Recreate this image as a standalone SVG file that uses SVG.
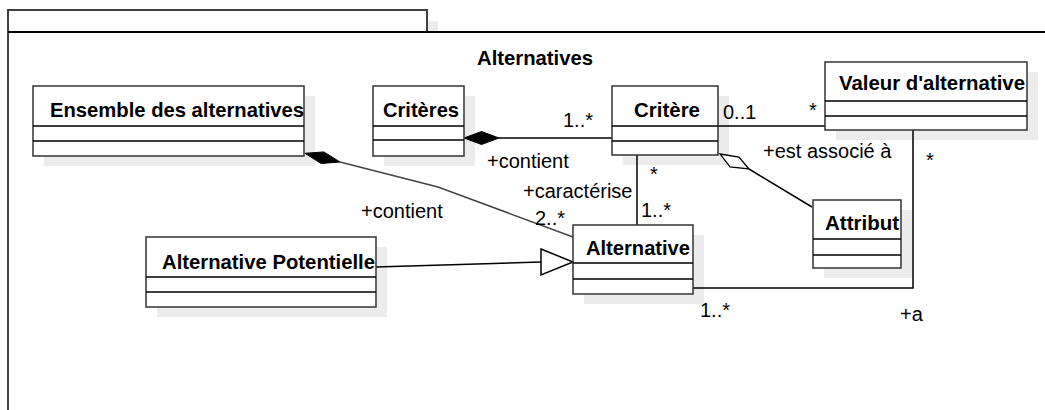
<svg xmlns="http://www.w3.org/2000/svg" width="1045" height="410" viewBox="0 0 1045 410">
<style>
.pk{fill:none;stroke:#404040;stroke-width:2}
.sh{fill:#ececec;stroke:none}
.bx{fill:#ffffff;stroke:#333333;stroke-width:1.5}
.cl{stroke:#000000;stroke-width:1.5}
.nm{font-family:"Liberation Sans",Arial,sans-serif;font-size:20.2px;font-weight:bold;fill:#000}
.lb{font-family:"Liberation Sans",Arial,sans-serif;font-size:20px;fill:#000}
.ln{fill:none;stroke:#000;stroke-width:1.5}
.lg{fill:none;stroke:#444;stroke-width:1.5}
</style>
<rect width="1045" height="410" fill="#ffffff"/>
<g id="package">
<rect class="sh" x="427" y="21" width="11" height="11"/>
<rect x="8" y="10" width="419" height="22" fill="#fff" stroke="#404040" stroke-width="2"/>
<path class="pk" d="M8,410 V32"/>
<path d="M8,32 H1045" stroke="#000" stroke-width="2"/>
<text class="nm" x="477" y="65" textLength="116" lengthAdjust="spacingAndGlyphs">Alternatives</text>
</g>
<g id="shadows">
<rect class="sh" x="44" y="96" width="271" height="70"/>
<rect class="sh" x="384" y="96" width="91" height="70"/>
<rect class="sh" x="623" y="96" width="106" height="69"/>
<rect class="sh" x="836" y="72" width="202" height="68"/>
<rect class="sh" x="824" y="210" width="88" height="68"/>
<rect class="sh" x="584" y="235" width="120" height="69"/>
<rect class="sh" x="157" y="247" width="230" height="70"/>
</g>
<g id="connectors">
<path class="ln" d="M499,138 H612"/>
<path d="M464,138 L481.5,131.5 L499,138 L481.5,144.5 Z" fill="#000" stroke="#000" stroke-width="1"/>
<path class="lg" d="M340,162 L438,187 L573,237"/>
<path d="M305,153.3 L323.9,151.9 L340,162 L321.1,163.5 Z" fill="#000" stroke="#000" stroke-width="1"/>
<path class="ln" d="M718,126 H825"/>
<path class="ln" d="M637,155 V225"/>
<path class="ln" d="M749,169 L812,207"/>
<path d="M720,154 L739,157 L749,169 L730,167 Z" fill="#fff" stroke="#000" stroke-width="1.3"/>
<path class="ln" d="M376,267 L541,262"/>
<path d="M541,249 L573,262 L541,275 Z" fill="#fff" stroke="#000" stroke-width="1.5"/>
<path class="ln" d="M693,288 H913 V130"/>
<text class="lb" x="563" y="127">1..*</text>
<text class="lb" x="487" y="168">+contient</text>
<text class="lb" x="650" y="181">*</text>
<text class="lb" x="523" y="198">+caractérise</text>
<text class="lb" x="641" y="217">1..*</text>
<text class="lb" x="535" y="225">2..*</text>
<text class="lb" x="361" y="218">+contient</text>
<text class="lb" x="723" y="119">0..1</text>
<text class="lb" x="809" y="117">*</text>
<text class="lb" x="763" y="158">+est associé à</text>
<text class="lb" x="926" y="167">*</text>
<text class="lb" x="700" y="317">1..*</text>
<text class="lb" x="900" y="321">+a</text>
</g>
<g id="ensemble">
<rect class="bx" x="33" y="86" width="271" height="70"/>
<path class="cl" d="M33,126 H304 M33,141 H304"/>
<text class="nm" x="50" y="117" textLength="254" lengthAdjust="spacingAndGlyphs">Ensemble des alternatives</text>
</g>
<g id="criteres">
<rect class="bx" x="373" y="86" width="91" height="70"/>
<path class="cl" d="M373,126 H464 M373,140 H464"/>
<text class="nm" x="383" y="117" textLength="76" lengthAdjust="spacingAndGlyphs">Critères</text>
</g>
<g id="critere">
<rect class="bx" x="612" y="86" width="106" height="69"/>
<path class="cl" d="M612,126 H718 M612,141 H718"/>
<text class="nm" x="634" y="117" textLength="66" lengthAdjust="spacingAndGlyphs">Critère</text>
</g>
<g id="valeur">
<rect class="bx" x="825" y="62" width="202" height="68"/>
<path class="cl" d="M825,101 H1027 M825,116 H1027"/>
<text class="nm" x="839" y="90" textLength="186" lengthAdjust="spacingAndGlyphs">Valeur d'alternative</text>
</g>
<g id="attribut">
<rect class="bx" x="813" y="200" width="88" height="68"/>
<path class="cl" d="M813,239 H901 M813,255 H901"/>
<text class="nm" x="825" y="230" textLength="74" lengthAdjust="spacingAndGlyphs">Attribut</text>
</g>
<g id="alternative">
<rect class="bx" x="573" y="225" width="120" height="69"/>
<path class="cl" d="M573,263 H693 M573,279 H693"/>
<text class="nm" x="586" y="255" textLength="104" lengthAdjust="spacingAndGlyphs">Alternative</text>
</g>
<g id="alternative-potentielle">
<rect class="bx" x="146" y="237" width="230" height="70"/>
<path class="cl" d="M146,277 H376 M146,292 H376"/>
<text class="nm" x="162" y="269" textLength="213" lengthAdjust="spacingAndGlyphs">Alternative Potentielle</text>
</g>
</svg>
